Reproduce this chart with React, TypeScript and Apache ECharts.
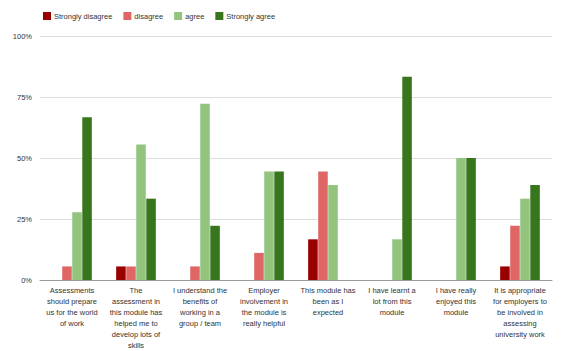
import React, { useEffect, useRef } from "react";
import * as echarts from "echarts";

const categories = [
  "Assessments\nshould prepare\nus for the world\nof work",
  "The\nassessment in\nthis module has\nhelped me to\ndevelop lots of\nskills",
  "I understand the\nbenefits of\nworking in a\ngroup / team",
  "Employer\ninvolvement in\nthe module is\nreally helpful",
  "This module has\nbeen as I\nexpected",
  "I have learnt a\nlot from this\nmodule",
  "I have really\nenjoyed this\nmodule",
  "It is appropriate\nfor employers to\nbe involved in\nassessing\nuniversity work",
];

const seriesNames = ["Strongly disagree", "disagree", "agree", "Strongly agree"];
const seriesColors = ["#990000", "#e06666", "#93c47d", "#38761d"];

const stronglyDisagree = [0, 5.56, 0, 0, 16.67, 0, 0, 5.56];
const disagree = [5.56, 5.56, 5.56, 11.11, 44.44, 0, 0, 22.22];
const agree = [27.78, 55.56, 72.22, 44.44, 38.89, 16.67, 50, 33.33];
const stronglyAgree = [66.67, 33.33, 22.22, 44.44, 0, 83.33, 50, 38.89];

const yTicks = [0, 25, 50, 75, 100];

export default function App() {
  const ref = useRef<HTMLDivElement>(null);
  useEffect(() => {
    if (!ref.current) return;
    const chart = echarts.init(ref.current, null, { renderer: "svg" });
    const values = [stronglyDisagree, disagree, agree, stronglyAgree];
    chart.setOption({
      animation: false,
      textStyle: { fontFamily: "Liberation Sans, Arial, sans-serif" },
      legend: {
        left: 38,
        top: 7,
        itemWidth: 8,
        itemHeight: 8,
        itemGap: 11,
        icon: "rect",
        textStyle: { fontSize: 7.5, color: "#333", padding: [0, 0, 0, -2] },
        data: seriesNames,
      },
      grid: { left: 40, right: 16, top: 36, bottom: 70, containLabel: false },
      xAxis: {
        type: "category",
        data: categories,
        axisTick: { show: false },
        axisLine: { lineStyle: { color: "#999", width: 1 } },
        axisLabel: {
          interval: 0,
          fontSize: 7.5,
          color: "#333",
          lineHeight: 11,
          margin: 5,
          align: "center",
        },
      },
      yAxis: {
        type: "value",
        min: yTicks[0],
        max: yTicks[yTicks.length - 1],
        interval: 25,
        axisLine: { show: false },
        axisTick: { show: false },
        splitLine: { lineStyle: { color: "#ddd", width: 1 } },
        axisLabel: {
          fontSize: 7.5,
          color: "#333",
          margin: 8,
          formatter: (v: number) => v + "%",
        },
      },
      series: seriesNames.map((name, i) => ({
        name,
        type: "bar",
        data: values[i],
        barGap: "5%",
        barCategoryGap: "38%",
        itemStyle: { color: seriesColors[i] },
      })),
    });
    return () => chart.dispose();
  }, []);
  return <div ref={ref} style={{ width: 568, height: 351, marginLeft: -8, marginTop: -8 }} />;
}
